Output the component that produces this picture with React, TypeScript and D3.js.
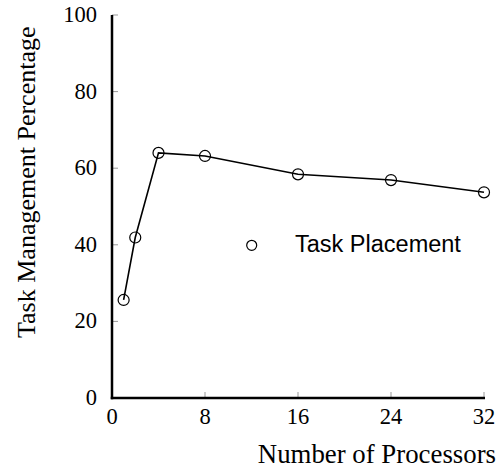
import React from "react";
import * as d3 from "d3";

const processors = [1, 2, 4, 8, 16, 24, 32];
const taskPlacement = [25.6, 41.9, 64.0, 63.2, 58.4, 56.9, 53.7];
const xTicks = [0, 8, 16, 24, 32];
const yTicks = [0, 20, 40, 60, 80, 100];
const seriesName = "Task Placement";
const xTitle = "Number of Processors";
const yTitle = "Task Management Percentage";

const W = 497;
const H = 472;

export default function App() {
  const x = d3.scaleLinear().domain([0, 32]).range([112, 484]);
  const y = d3.scaleLinear().domain([0, 100]).range([398, 15]);
  const line = d3
    .line<number>()
    .x((_, i) => x(processors[i]))
    .y((d) => y(d));
  const serif = "'Liberation Serif', 'Times New Roman', serif";
  const sans = "'Liberation Sans', Arial, sans-serif";

  return (
    <svg
      width={W}
      height={H}
      style={{ position: "absolute", left: 0, top: 0, background: "#fff" }}
    >
      {/* ticks (inside) */}
      {yTicks.map((t) => (
        <line key={"yt" + t} x1={x(0)} x2={x(0) + 6} y1={y(t)} y2={y(t)} stroke="#999" strokeWidth={1} />
      ))}
      {xTicks.map((t) => (
        <line key={"xt" + t} x1={x(t)} x2={x(t)} y1={y(0)} y2={y(0) - 6} stroke="#999" strokeWidth={1} />
      ))}
      {/* axis lines */}
      <line x1={x(0)} x2={x(0)} y1={y(100)} y2={y(0) + 1.25} stroke="#000" strokeWidth={2.5} />
      <line x1={x(0) - 1.25} x2={x(32) + 1} y1={y(0)} y2={y(0)} stroke="#000" strokeWidth={2.5} />
      {/* tick labels */}
      {yTicks.map((t) => (
        <text key={"yl" + t} x={97} y={y(t) + 7} textAnchor="end" fontFamily={serif} fontSize={22.5} fill="#000">
          {t}
        </text>
      ))}
      {xTicks.map((t) => (
        <text key={"xl" + t} x={x(t)} y={424} textAnchor="middle" fontFamily={serif} fontSize={22.5} fill="#000">
          {t}
        </text>
      ))}
      {/* axis titles */}
      <text x={496} y={463} textAnchor="end" fontFamily={serif} fontSize={26.8} fill="#000">
        {xTitle}
      </text>
      <text
        transform={`translate(35, 338) rotate(-90)`}
        textAnchor="start"
        fontFamily={serif}
        fontSize={26}
        fill="#000"
      >
        {yTitle}
      </text>
      {/* series */}
      <path d={line(taskPlacement) || ""} fill="none" stroke="#000" strokeWidth={1.6} />
      {taskPlacement.map((v, i) => (
        <circle key={"p" + i} cx={x(processors[i])} cy={y(v)} r={5.5} fill="none" stroke="#000" strokeWidth={1.2} />
      ))}
      {/* legend */}
      <circle cx={251.7} cy={245.3} r={5} fill="none" stroke="#000" strokeWidth={1.2} />
      <text x={295} y={251.7} fontFamily={sans} fontSize={23.5} fill="#000">
        {seriesName}
      </text>
    </svg>
  );
}
